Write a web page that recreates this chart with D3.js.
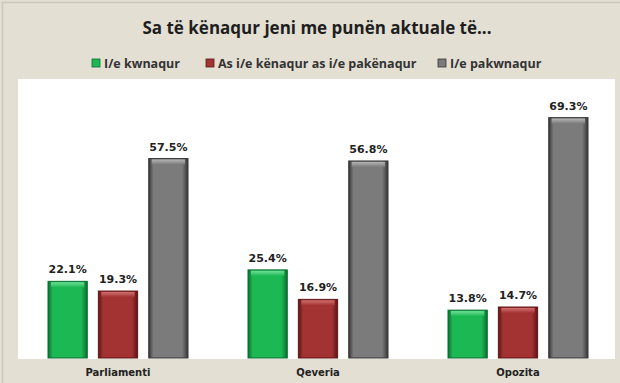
<!DOCTYPE html>
<html><head><meta charset="utf-8">
<script src="https://cdn.jsdelivr.net/npm/d3@7"></script>
<style>html,body{margin:0;padding:0;background:#e3dfd3;}svg{display:block;}</style>
</head><body>
<svg id="c" width="620" height="383"></svg>
<script>
const categories = ["Parliamenti", "Qeveria", "Opozita"];
const seriesNames = ["I/e kwnaqur", "As i/e kënaqur as i/e pakënaqur", "I/e pakwnaqur"];
const kenaqur = [22.1, 25.4, 13.8];
const asNje = [19.3, 16.9, 14.7];
const pakenaqur = [57.5, 56.8, 69.3];
const title = "Sa të kënaqur jeni me punën aktuale të...";

const series = [kenaqur, asNje, pakenaqur];
const colors = [
  {main:"#1cb853", dark:"#0b6e30", light:"#6fe09a"},
  {main:"#a33232", dark:"#5e1515", light:"#d07070"},
  {main:"#7b7b7b", dark:"#363636", light:"#b5b5b5"}
];

const svg = d3.select("#c");
svg.append("rect").attr("x",0).attr("y",0).attr("width",620).attr("height",383).attr("fill","#e3dfd3");
svg.append("rect").attr("x",2.5).attr("y",2.5).attr("width",620).attr("height",383)
  .attr("fill","none").attr("stroke","#cdc8ba").attr("stroke-width",1.5);

const plot = {l:18, r:615, t:79, b:359};
svg.append("rect").attr("x",plot.l).attr("y",plot.t).attr("width",plot.r-plot.l).attr("height",plot.b-plot.t).attr("fill","#ffffff");

const defs = svg.append("defs");
colors.forEach((c,i)=>{
  const g = defs.append("linearGradient").attr("id","hg"+i).attr("x1","0").attr("x2","1").attr("y1","0").attr("y2","0");
  g.append("stop").attr("offset","0%").attr("stop-color",c.dark);
  g.append("stop").attr("offset","12%").attr("stop-color",c.main);
  g.append("stop").attr("offset","85%").attr("stop-color",c.main);
  g.append("stop").attr("offset","100%").attr("stop-color",c.dark);
  const t = defs.append("linearGradient").attr("id","tg"+i).attr("x1","0").attr("x2","0").attr("y1","0").attr("y2","1");
  t.append("stop").attr("offset","0%").attr("stop-color",c.light);
  t.append("stop").attr("offset","100%").attr("stop-color",c.main);
});

const x0 = d3.scaleBand().domain(categories).range([18, 618]);
const x1 = d3.scaleBand().domain(d3.range(series.length)).range([30, 170]).paddingInner(0.22);
const y = d3.scaleLinear().domain([0, 80]).range([358, 80.5]);

const data = [];
categories.forEach((cat,ci)=>series.forEach((s,si)=>data.push({cat, si, v:s[ci]})));

const bars = svg.append("g").selectAll("g").data(data).join("g")
  .attr("transform", d=>`translate(${x0(d.cat)+x1(d.si)},0)`);
const bw = x1.bandwidth();
bars.append("rect").attr("x",0).attr("y",d=>y(d.v)).attr("width",bw).attr("height",d=>y(0)-y(d.v))
  .attr("fill",d=>`url(#hg${d.si})`).attr("stroke",d=>colors[d.si].dark).attr("stroke-width",1);
bars.append("rect").attr("x",3).attr("y",d=>y(d.v)+1).attr("width",bw-6).attr("height",5)
  .attr("fill",d=>`url(#tg${d.si})`);
bars.append("text").attr("x",bw/2).attr("y",d=>y(d.v)-8).attr("text-anchor","middle")
  .attr("font-family","DejaVu Sans").attr("font-weight","bold").attr("font-size",11).attr("fill","#222")
  .text(d=>d.v.toFixed(1)+"%");

const xAxis = d3.axisBottom(x0).tickSize(0).tickPadding(0);
const ax = svg.append("g").attr("transform","translate(0,369)").call(xAxis);
ax.select(".domain").remove();
ax.selectAll("text").attr("font-family","DejaVu Sans").attr("font-weight","bold").attr("font-size",10).attr("fill","#222").attr("dy","0.71em");

svg.append("text").attr("x",317).attr("y",34).attr("text-anchor","middle")
  .attr("font-family","Open Sans").attr("font-weight",700).attr("font-size",17).attr("fill","#1e1e1e").text(title);

const legX = [92, 206, 438];
const leg = svg.append("g").selectAll("g").data(seriesNames).join("g").attr("transform",(d,i)=>`translate(${legX[i]},63)`);
leg.append("rect").attr("x",0).attr("y",-4).attr("width",8).attr("height",8).attr("fill",(d,i)=>colors[i].main).attr("stroke",(d,i)=>colors[i].dark).attr("stroke-width",0.8);
leg.append("text").attr("x",12).attr("y",4.5).attr("font-family","Open Sans").attr("font-weight",700).attr("font-size",12.5).attr("fill","#333").text(d=>d);
</script>
</body></html>
